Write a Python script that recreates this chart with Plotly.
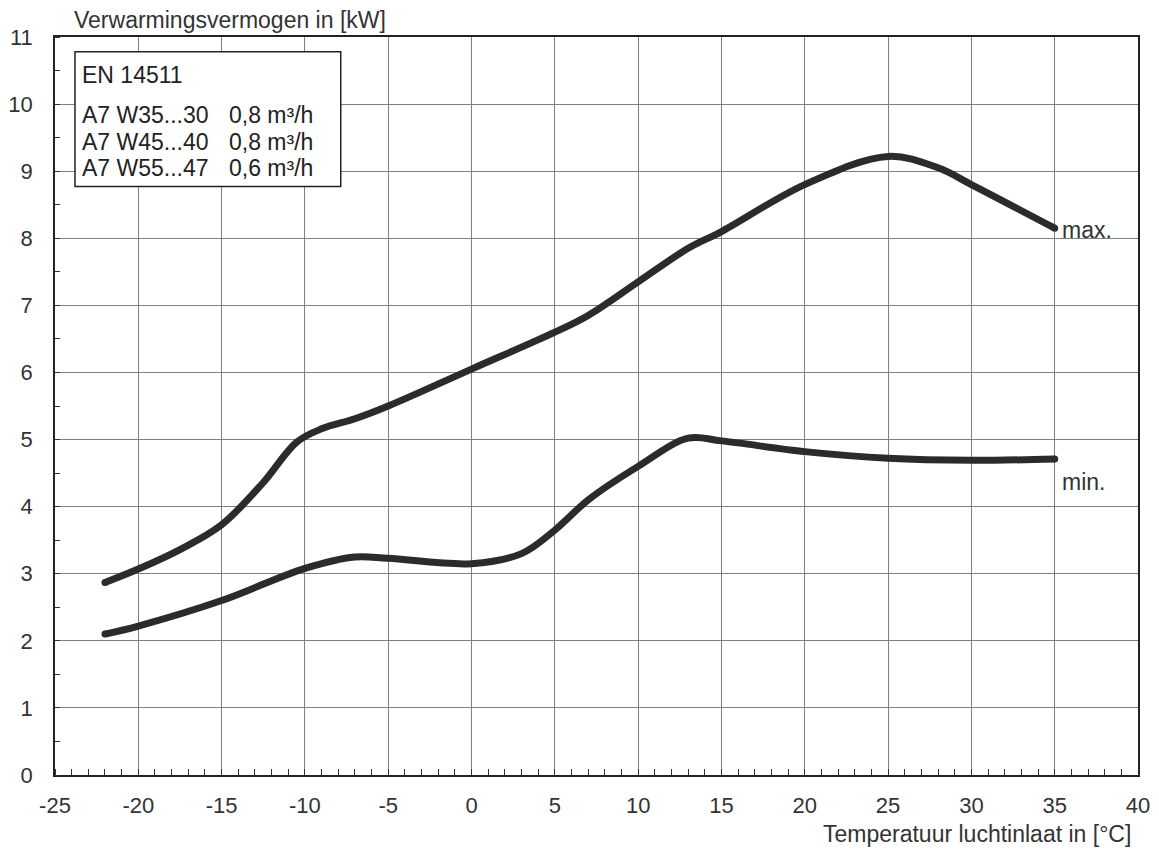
import plotly.graph_objects as go

# Data
x_max = [-22, -20, -17.5, -15, -12.5, -10.5, -9, -7, -5, 0, 5, 7, 10, 13, 15, 20, 25, 28, 30, 35]
y_max = [2.87, 3.07, 3.36, 3.73, 4.36, 4.96, 5.16, 5.31, 5.5, 6.05, 6.6, 6.85, 7.35, 7.85, 8.1, 8.8, 9.22, 9.05, 8.8, 8.15]
x_min = [-22, -20, -15, -10, -7, -5, 0, 3, 5, 7, 10, 13, 15, 20, 25, 30, 35]
y_min = [2.1, 2.22, 2.6, 3.08, 3.25, 3.23, 3.15, 3.3, 3.65, 4.1, 4.6, 5.02, 4.98, 4.82, 4.72, 4.69, 4.71]

x_ticks = list(range(-25, 41, 5))
y_ticks = list(range(0, 12))
legend_title = "EN 14511"
legend_rows = [("A7 W35...30", "0,8 m³/h"), ("A7 W45...40", "0,8 m³/h"), ("A7 W55...47", "0,6 m³/h")]

FONT = "Arial, Liberation Sans, sans-serif"
FS = 22      # tick labels
FA = 23      # annotation text
TXT = "#333"
LINE_COLOR = "#2b2b2b"

fig = go.Figure()
for xs, ys in [(x_max, y_max), (x_min, y_min)]:
    fig.add_trace(go.Scatter(x=xs, y=ys, mode="lines",
                             line=dict(color=LINE_COLOR, width=7, shape="spline", smoothing=1.0),
                             showlegend=False, hoverinfo="skip"))
    # round end caps
    fig.add_trace(go.Scatter(x=[xs[0], xs[-1]], y=[ys[0], ys[-1]], mode="markers",
                             marker=dict(color=LINE_COLOR, size=7, line=dict(width=0)),
                             showlegend=False, hoverinfo="skip"))

axis_common = dict(showline=True, linecolor="#222", linewidth=1.5, mirror=True,
                   showgrid=True, gridcolor="#808080", gridwidth=1, automargin=False,
                   zeroline=False, ticks="", tickfont=dict(family=FONT, size=FS, color=TXT))

fig.update_xaxes(range=[-25, 40], tickvals=x_ticks, ticktext=[str(v) for v in x_ticks],
                 minor=dict(dtick=1, tick0=0, ticks="inside", ticklen=6, tickcolor="#333", showgrid=False),
                 ticklabelstandoff=10, **axis_common)
fig.update_yaxes(range=[0, 11], tickvals=y_ticks, ticktext=[str(v) for v in y_ticks],
                 minor=dict(dtick=0.5, tick0=0, ticks="inside", ticklen=5, tickcolor="#333", showgrid=False),
                 ticklabelstandoff=16, **axis_common)

annotations = [
    dict(text="Verwarmingsvermogen in [kW]", xref="paper", yref="paper", x=0.0157, y=1.0,
         xanchor="left", yanchor="middle", yshift=17, showarrow=False,
         font=dict(family=FONT, size=FA, color=TXT)),
    dict(text="Temperatuur luchtinlaat in [°C]", xref="paper", yref="paper", x=0.9954, y=0,
         xanchor="right", yanchor="middle", yshift=-59, showarrow=False,
         font=dict(family=FONT, size=FA, color=TXT)),
    dict(text="max.", x=35, y=8.13, xanchor="left", yanchor="middle", xshift=5,
         showarrow=False, font=dict(family=FONT, size=FA, color=TXT)),
    dict(text="min.", x=35, y=4.36, xanchor="left", yanchor="middle", xshift=5,
         showarrow=False, font=dict(family=FONT, size=FA, color=TXT)),
    dict(text=legend_title, x=-23.5, y=10.43, xanchor="left", yanchor="middle", showarrow=False,
         font=dict(family=FONT, size=FA, color="#222")),
]
row_y = [9.84, 9.43, 9.05]
for (a, b), yy in zip(legend_rows, row_y):
    annotations.append(dict(text=a, x=-23.5, y=yy, xanchor="left", yanchor="middle", showarrow=False,
                            font=dict(family=FONT, size=FA, color="#222")))
    annotations.append(dict(text=b, x=-14.68, y=yy, xanchor="left", yanchor="middle", showarrow=False,
                            font=dict(family=FONT, size=FA, color="#222")))

fig.add_shape(type="rect", x0=-23.8, x1=-7.85, y0=8.77, y1=10.78,
              line=dict(color="#222", width=1.5), fillcolor="white", layer="above")

fig.update_layout(width=1159, height=851, margin=dict(l=47, r=29, t=29, b=84),
                  plot_bgcolor="white", paper_bgcolor="white",
                  annotations=annotations, showlegend=False)

fig.write_html("out.html")
